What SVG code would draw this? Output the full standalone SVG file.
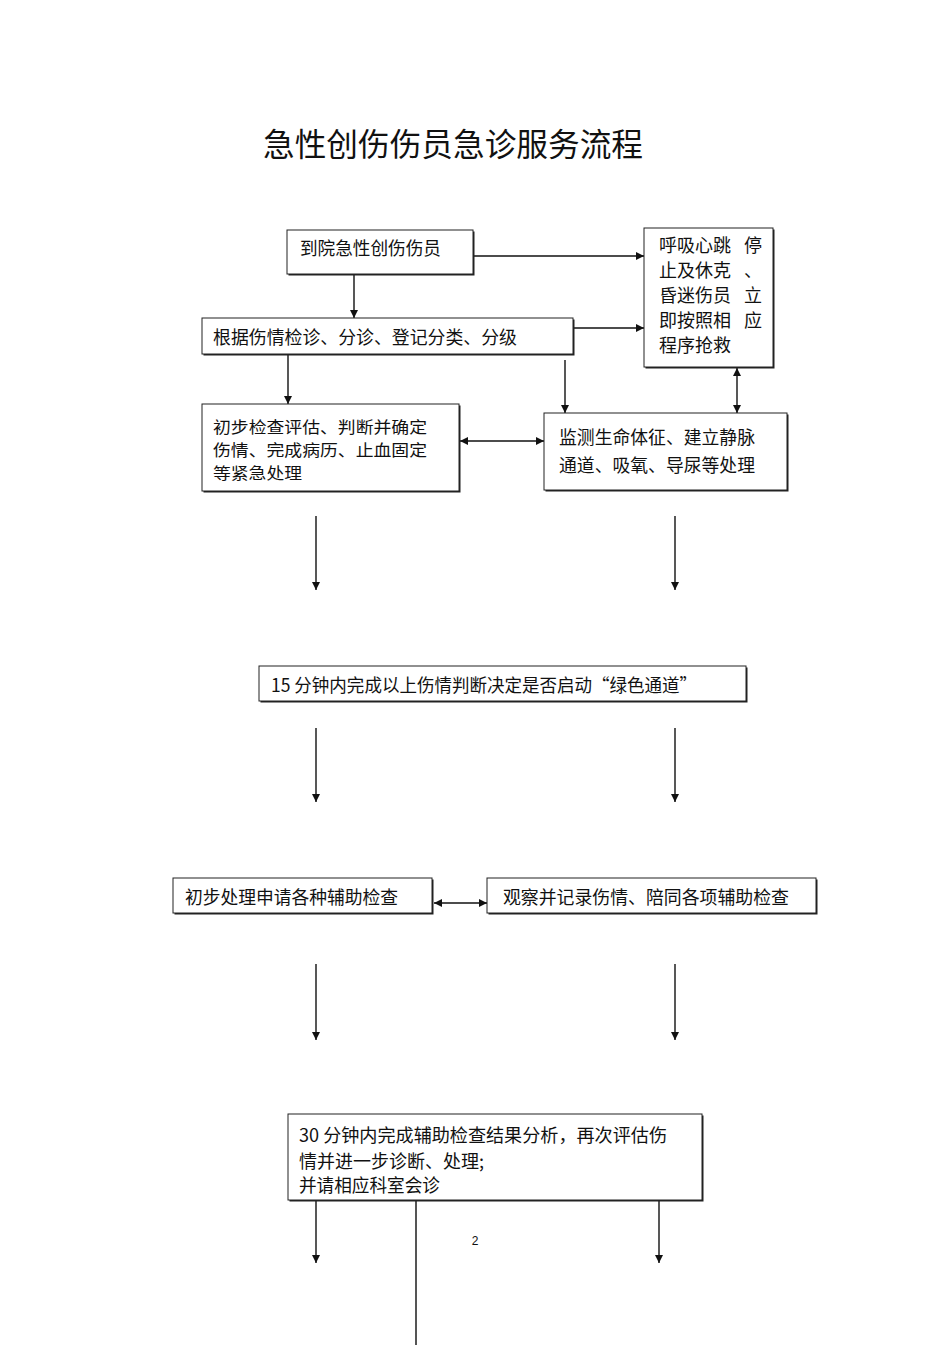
<svg xmlns="http://www.w3.org/2000/svg" width="950" height="1345" viewBox="0 0 950 1345">
<style>
.t{font-family:"Noto Sans CJK SC","Liberation Sans",sans-serif;font-size:18px;fill:#111}
.s{font-size:16px}
.title{font-family:"Noto Sans CJK SC","Liberation Sans",sans-serif;font-size:32px;fill:#111}
.sh{fill:#222}
.bx{fill:#fff;stroke:#222;stroke-width:1}
.c{stroke:#111;stroke-width:1.4;fill:none}
</style>
<defs>
<marker id="ah" viewBox="0 0 10 10" refX="10" refY="5" markerWidth="9" markerHeight="8" markerUnits="userSpaceOnUse" orient="auto"><path d="M0,0 L10,5 L0,10 z" fill="#111"/></marker>
<marker id="as" viewBox="0 0 10 10" refX="0" refY="5" markerWidth="9" markerHeight="8" markerUnits="userSpaceOnUse" orient="auto"><path d="M10,0 L0,5 L10,10 z" fill="#111"/></marker>
</defs>
<rect width="950" height="1345" fill="#fff"/>
<text class="title" x="263" y="156" textLength="380" lengthAdjust="spacingAndGlyphs">急性创伤伤员急诊服务流程</text>

<g id="connectors">
<line class="c" x1="473" y1="256" x2="644" y2="256" marker-end="url(#ah)"/>
<line class="c" x1="354" y1="274" x2="354" y2="318" marker-end="url(#ah)"/>
<line class="c" x1="573" y1="328" x2="644" y2="328" marker-end="url(#ah)"/>
<line class="c" x1="288" y1="355" x2="288" y2="404" marker-end="url(#ah)"/>
<line class="c" x1="565" y1="360" x2="565" y2="413" marker-end="url(#ah)"/>
<line class="c" x1="737" y1="368" x2="737" y2="413" marker-start="url(#as)" marker-end="url(#ah)"/>
<line class="c" x1="460" y1="441" x2="544" y2="441" marker-start="url(#as)" marker-end="url(#ah)"/>
<line class="c" x1="316" y1="516" x2="316" y2="590" marker-end="url(#ah)"/>
<line class="c" x1="675" y1="516" x2="675" y2="590" marker-end="url(#ah)"/>
<line class="c" x1="316" y1="728" x2="316" y2="802" marker-end="url(#ah)"/>
<line class="c" x1="675" y1="728" x2="675" y2="802" marker-end="url(#ah)"/>
<line class="c" x1="434" y1="903" x2="487" y2="903" marker-start="url(#as)" marker-end="url(#ah)"/>
<line class="c" x1="316" y1="964" x2="316" y2="1040" marker-end="url(#ah)"/>
<line class="c" x1="675" y1="964" x2="675" y2="1040" marker-end="url(#ah)"/>
<line class="c" x1="316" y1="1201" x2="316" y2="1263" marker-end="url(#ah)"/>
<line class="c" x1="659" y1="1201" x2="659" y2="1263" marker-end="url(#ah)"/>
<line x1="416" y1="1201" x2="416" y2="1345" stroke="#555" stroke-width="2"/>
</g>

<g id="n1">
<rect class="sh" x="288.5" y="231.5" width="186" height="44"/>
<rect class="bx" x="287" y="230" width="186" height="44"/>
<text class="t" x="300" y="255" textLength="141" lengthAdjust="spacingAndGlyphs">到院急性创伤伤员</text>
</g>
<g id="n2">
<rect class="sh" x="203.5" y="319.5" width="371" height="36"/>
<rect class="bx" x="202" y="318" width="371" height="36"/>
<text class="t" x="213" y="344" textLength="304" lengthAdjust="spacingAndGlyphs">根据伤情检诊、分诊、登记分类、分级</text>
</g>
<g id="n3">
<rect class="sh" x="645.5" y="229.5" width="129" height="139"/>
<rect class="bx" x="644" y="228" width="129" height="139"/>
<text class="t" x="659" y="252">呼吸心跳<tspan x="744">停</tspan></text>
<text class="t" x="659" y="277">止及休克<tspan x="744">、</tspan></text>
<text class="t" x="659" y="302">昏迷伤员<tspan x="744">立</tspan></text>
<text class="t" x="659" y="327">即按照相<tspan x="744">应</tspan></text>
<text class="t" x="659" y="352">程序抢救</text>
</g>
<g id="n4">
<rect class="sh" x="203.5" y="405.5" width="257" height="87"/>
<rect class="bx" x="202" y="404" width="257" height="87"/>
<text class="t s" x="213" y="433" textLength="214" lengthAdjust="spacingAndGlyphs">初步检查评估、判断并确定</text>
<text class="t s" x="213" y="456" textLength="214" lengthAdjust="spacingAndGlyphs">伤情、完成病历、止血固定</text>
<text class="t s" x="213" y="479" textLength="89" lengthAdjust="spacingAndGlyphs">等紧急处理</text>
</g>
<g id="n5">
<rect class="sh" x="545.5" y="414.5" width="243" height="77"/>
<rect class="bx" x="544" y="413" width="243" height="77"/>
<text class="t" x="559" y="444" textLength="196" lengthAdjust="spacingAndGlyphs">监测生命体征、建立静脉</text>
<text class="t" x="559" y="472" textLength="196" lengthAdjust="spacingAndGlyphs">通道、吸氧、导尿等处理</text>
</g>
<g id="n6">
<rect class="sh" x="260.5" y="667.5" width="487" height="35"/>
<rect class="bx" x="259" y="666" width="487" height="35"/>
<text class="t" x="271" y="692" textLength="426" lengthAdjust="spacingAndGlyphs">15 分钟内完成以上伤情判断决定是否启动“绿色通道”</text>
</g>
<g id="n7">
<rect class="sh" x="174.5" y="879.5" width="259" height="35"/>
<rect class="bx" x="173" y="878" width="259" height="35"/>
<text class="t" x="185" y="904" textLength="213" lengthAdjust="spacingAndGlyphs">初步处理申请各种辅助检查</text>
</g>
<g id="n8">
<rect class="sh" x="488.5" y="879.5" width="329" height="35"/>
<rect class="bx" x="487" y="878" width="329" height="35"/>
<text class="t" x="503" y="904" textLength="286" lengthAdjust="spacingAndGlyphs">观察并记录伤情、陪同各项辅助检查</text>
</g>
<g id="n9">
<rect class="sh" x="289.5" y="1115.5" width="414" height="86"/>
<rect class="bx" x="288" y="1114" width="414" height="86"/>
<text class="t" x="299" y="1142" textLength="368" lengthAdjust="spacingAndGlyphs">30 分钟内完成辅助检查结果分析，再次评估伤</text>
<text class="t" x="299" y="1168" textLength="185" lengthAdjust="spacingAndGlyphs">情并进一步诊断、处理;</text>
<text class="t" x="299" y="1192" textLength="141" lengthAdjust="spacingAndGlyphs">并请相应科室会诊</text>
</g>
<text x="475" y="1245" font-family="Liberation Sans, sans-serif" font-size="12" fill="#111" text-anchor="middle">2</text>
</svg>
